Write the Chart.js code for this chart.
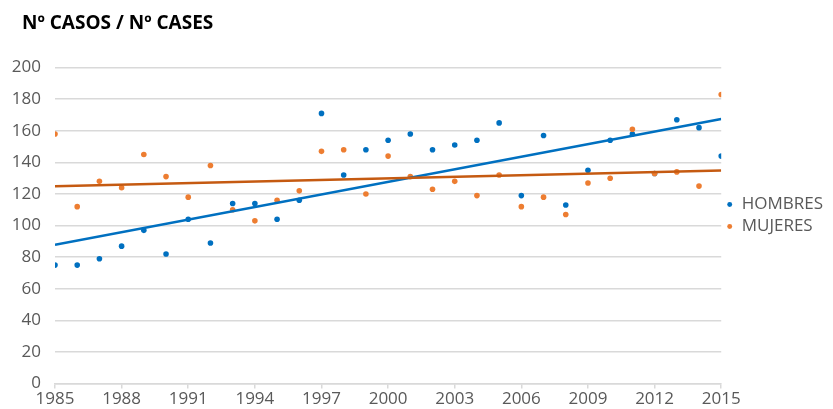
<!DOCTYPE html>
<html>
<head>
  <meta charset="UTF-8">
  <title>Nº casos</title>
  <script src="https://cdn.jsdelivr.net/npm/chart.js"></script>
  <style>
    body {
      margin: 0;
      background-color: #fff;
    }
    #chartContainer {
      position: relative;
      width: 833px;
      height: 409px;
    }
    #chartTitle {
      position: absolute;
      left: 22px;
      top: 13px;
      margin: 0;
      font-family: 'Open Sans', sans-serif;
      font-weight: bold;
      font-size: 19px;
      line-height: 19px;
      color: #000;
    }
  </style>
</head>
<body>
  <div id="chartContainer">
    <canvas id="casesChart"></canvas>
    <h1 id="chartTitle"></h1>
  </div>
  <script>
    const years = [1985, 1986, 1987, 1988, 1989, 1990, 1991, 1992, 1993, 1994, 1995,
      1996, 1997, 1998, 1999, 2000, 2001, 2002, 2003, 2004, 2005,
      2006, 2007, 2008, 2009, 2010, 2011, 2012, 2013, 2014, 2015];
    const hombres = [75, 75, 79, 87, 97, 82, 104, 89, 114, 114, 104,
      116, 171, 132, 148, 154, 158, 148, 151, 154, 165,
      119, 157, 113, 135, 154, 158, 133, 167, 162, 144];
    const mujeres = [158, 112, 128, 124, 145, 131, 118, 138, 110, 103, 116,
      122, 147, 148, 120, 144, 131, 123, 128, 119, 132,
      112, 118, 107, 127, 130, 161, 133, 134, 125, 183];
    const seriesNames = ['HOMBRES', 'MUJERES'];
    const titleText = 'Nº CASOS / Nº CASES';

    const BLUE = '#0070c0';
    const ORANGE = '#ed7d31';
    const ORANGE_TREND = '#c55a11';
    const TEXT = '#595959';
    const GRID = '#d9d9d9';
    const FONT = "'Open Sans', sans-serif";

    document.getElementById('chartTitle').textContent = titleText;

    // least squares line, evaluated at the first and last year
    const trend = (xs, ys) => {
      const n = xs.length;
      const mx = xs.reduce((a, b) => a + b, 0) / n;
      const my = ys.reduce((a, b) => a + b, 0) / n;
      let sxy = 0, sxx = 0;
      xs.forEach((x, i) => {
        sxy += (x - mx) * (ys[i] - my);
        sxx += (x - mx) * (x - mx);
      });
      const slope = sxy / sxx;
      const x0 = xs[0], x1 = xs[n - 1];
      return [
        { x: x0, y: my + slope * (x0 - mx) },
        { x: x1, y: my + slope * (x1 - mx) }
      ];
    };

    const points = ys => years.map((y, i) => ({ x: y, y: ys[i] }));

    const ctx = document.getElementById('casesChart').getContext('2d');
    new Chart(ctx, {
      type: 'scatter',
      data: {
        datasets: [
          {
            label: seriesNames[0],
            data: points(hombres),
            backgroundColor: BLUE,
            borderColor: BLUE,
            pointRadius: 2.8,
            borderWidth: 0,
            order: 3
          },
          {
            label: seriesNames[1],
            data: points(mujeres),
            backgroundColor: ORANGE,
            borderColor: ORANGE,
            pointRadius: 2.8,
            borderWidth: 0,
            order: 2
          },
          {
            type: 'line',
            label: 'trend-h',
            data: trend(years, hombres),
            borderColor: BLUE,
            borderWidth: 2.5,
            pointRadius: 0,
            order: 1
          },
          {
            type: 'line',
            label: 'trend-m',
            data: trend(years, mujeres),
            borderColor: ORANGE_TREND,
            borderWidth: 2.5,
            pointRadius: 0,
            order: 0
          }
        ]
      },
      options: {
        responsive: true,
        maintainAspectRatio: false,
        animation: false,
        layout: {
          padding: { left: 0, right: 0, top: 22, bottom: 0 }
        },
        plugins: {
          legend: {
            position: 'right',
            labels: {
              filter: item => seriesNames.includes(item.text),
              sort: (a, b) => a.datasetIndex - b.datasetIndex,
              usePointStyle: true,
              pointStyle: 'circle',
              boxWidth: 7,
              boxHeight: 3.5,
              padding: 5,
              color: TEXT,
              font: { family: FONT, size: 17 }
            }
          },
          tooltip: { enabled: false }
        },
        scales: {
          x: {
            type: 'linear',
            min: 1985,
            max: 2015,
            ticks: {
              stepSize: 3,
              color: TEXT,
              font: { family: FONT, size: 17 },
              padding: 0,
              callback: v => String(v)
            },
            grid: {
              drawOnChartArea: false,
              color: GRID,
              lineWidth: 1.5,
              tickLength: 5
            },
            border: { color: GRID, width: 1.5 }
          },
          // empty band above the plot, leaves room under the title
          xTop: {
            type: 'linear',
            position: 'top',
            min: 1985,
            max: 2015,
            ticks: { display: false },
            grid: { display: false },
            border: { display: false },
            afterFit: scale => { scale.height = 45.6; }
          },
          y: {
            min: 0,
            max: 200,
            afterFit: scale => { scale.width = 55; },
            ticks: {
              stepSize: 20,
              color: TEXT,
              font: { family: FONT, size: 17 },
              padding: 14
            },
            grid: {
              color: GRID,
              lineWidth: 1.5,
              drawTicks: false
            },
            border: { display: false }
          }
        }
      }
    });
  </script>
</body>
</html>
